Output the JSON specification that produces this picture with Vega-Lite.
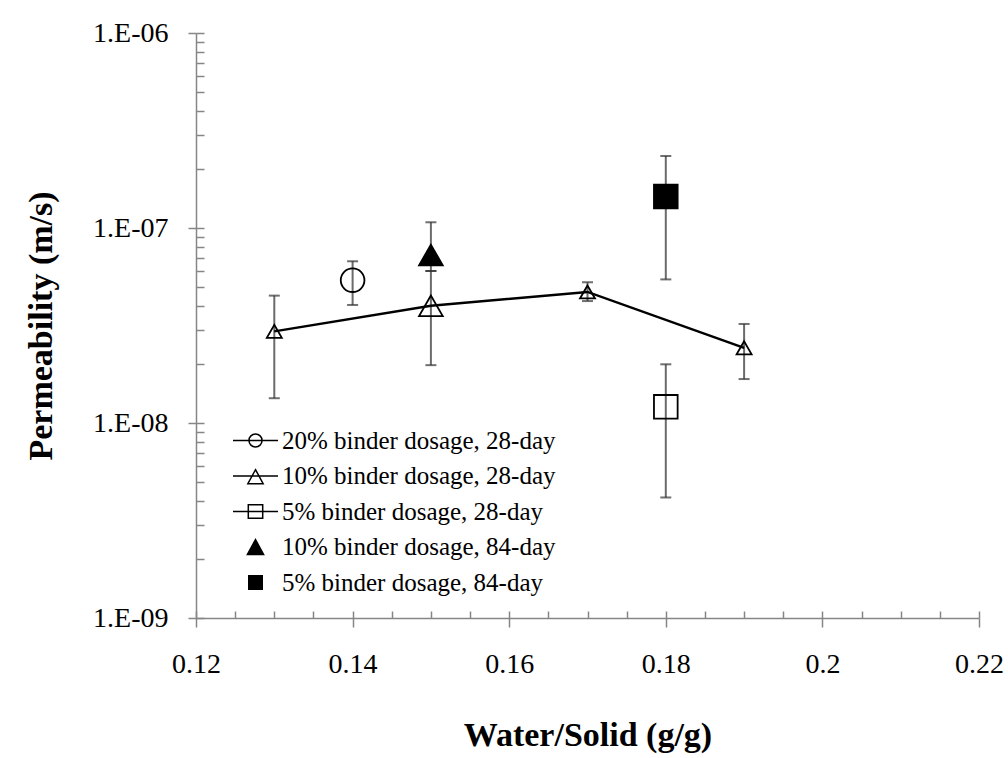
{
  "$schema": "https://vega.github.io/schema/vega-lite/v6.json",
  "width": 783,
  "height": 585,
  "autosize": {"type": "none"},
  "padding": {"left": 196, "top": 33, "right": 29, "bottom": 140},
  "background": "white",
  "config": {"view": {"stroke": null}, "font": "Liberation Serif"},
  "data": {
    "values": [
      {"series": "20% binder dosage, 28-day", "x": 0.14, "y": 5.4e-8, "lo": 4.03e-8, "hi": 6.75e-8},
      {"series": "10% binder dosage, 28-day", "x": 0.13, "y": 2.95e-8, "lo": 1.34e-8, "hi": 4.5e-8},
      {"series": "10% binder dosage, 28-day", "x": 0.15, "y": 3.99e-8, "lo": 1.98e-8, "hi": 6.02e-8},
      {"series": "10% binder dosage, 28-day", "x": 0.17, "y": 4.7e-8, "lo": 4.22e-8, "hi": 5.27e-8},
      {"series": "10% binder dosage, 28-day", "x": 0.19, "y": 2.43e-8, "lo": 1.68e-8, "hi": 3.22e-8},
      {"series": "5% binder dosage, 28-day", "x": 0.18, "y": 1.21e-8, "lo": 4.15e-9, "hi": 2.0e-8},
      {"series": "10% binder dosage, 84-day", "x": 0.15, "y": 7.27e-8, "lo": 6.02e-8, "hi": 1.07e-7},
      {"series": "5% binder dosage, 84-day", "x": 0.18, "y": 1.45e-7, "lo": 5.45e-8, "hi": 2.34e-7}
    ]
  },
  "resolve": {
    "scale": {"shape": "independent", "fill": "independent", "stroke": "independent"},
    "axis": {"x": "independent", "y": "independent"}
  },
  "layer": [
    {
      "mark": {"type": "rule", "color": "#6b6b6b", "strokeWidth": 2},
      "encoding": {
        "x": {
          "field": "x", "type": "quantitative",
          "scale": {"domain": [0.12, 0.22], "nice": false, "zero": false},
          "axis": {
            "orient": "bottom",
            "values": [0.12, 0.14, 0.16, 0.18, 0.2, 0.22],
            "format": "~g",
            "title": "Water/Solid (g/g)",
            "titleFont": "Liberation Serif", "titleFontSize": 34, "titleFontWeight": "bold", "titleColor": "black",
            "titlePadding": 40,
            "labelFont": "Liberation Serif", "labelFontSize": 28, "labelColor": "black", "labelPadding": 23,
            "labelFlush": false, "labelOverlap": false,
            "tickSize": 9, "tickColor": "#868686", "tickWidth": 1.5,
            "domainColor": "#868686", "domainWidth": 1.5, "grid": false
          }
        },
        "y": {
          "field": "lo", "type": "quantitative",
          "scale": {"type": "log", "domain": [1e-9, 1e-6], "nice": false},
          "axis": {
            "orient": "left",
            "values": [1e-9, 1e-8, 1e-7, 1e-6],
            "labelExpr": "'1.E-0' + round(-log(datum.value)/LN10)",
            "title": "Permeability (m/s)",
            "titleFont": "Liberation Serif", "titleFontSize": 34, "titleFontWeight": "bold", "titleColor": "black",
            "titlePadding": 34,
            "labelFont": "Liberation Serif", "labelFontSize": 28, "labelColor": "black", "labelPadding": 20,
            "tickSize": 8, "tickColor": "#868686", "tickWidth": 1.5,
            "domainColor": "#868686", "domainWidth": 1.5, "grid": false
          }
        },
        "y2": {"field": "hi"}
      }
    },
    {
      "mark": {"type": "tick", "orient": "horizontal", "size": 11, "thickness": 2, "color": "#333333"},
      "encoding": {
        "x": {
          "field": "x", "type": "quantitative",
          "axis": {
            "orient": "bottom",
            "values": [0.12, 0.125, 0.13, 0.135, 0.14, 0.145, 0.15, 0.155, 0.16, 0.165, 0.17, 0.175, 0.18, 0.185, 0.19, 0.195, 0.2, 0.205, 0.21, 0.215, 0.22],
            "labels": false, "domain": false, "title": null, "grid": false,
            "tickSize": -7, "tickColor": "#868686", "tickWidth": 1.5
          }
        },
        "y": {
          "field": "lo", "type": "quantitative",
          "axis": {
            "orient": "left",
            "values": [1e-9, 2e-9, 3e-9, 4e-9, 5e-9, 6e-9, 7e-9, 8e-9, 9e-9, 1e-8, 2e-8, 3e-8, 4e-8, 5e-8, 6e-8, 7e-8, 8e-8, 9e-8, 1e-7, 2e-7, 3e-7, 4e-7, 5e-7, 6e-7, 7e-7, 8e-7, 9e-7, 1e-6],
            "labels": false, "domain": false, "title": null, "grid": false,
            "tickSize": -8, "tickColor": "#868686", "tickWidth": 1.5
          }
        }
      }
    },
    {
      "mark": {"type": "tick", "orient": "horizontal", "size": 11, "thickness": 2, "color": "#333333"},
      "encoding": {
        "x": {"field": "x", "type": "quantitative", "axis": null},
        "y": {"field": "hi", "type": "quantitative", "axis": null}
      }
    },
    {
      "transform": [{"filter": "datum.series === '10% binder dosage, 28-day'"}],
      "mark": {"type": "line", "color": "black", "strokeWidth": 2.5},
      "encoding": {
        "x": {"field": "x", "type": "quantitative", "axis": null},
        "y": {"field": "y", "type": "quantitative", "axis": null}
      }
    },
    {
      "mark": {"type": "point", "filled": true, "stroke": "black", "strokeWidth": 1.8, "opacity": 1},
      "encoding": {
        "x": {"field": "x", "type": "quantitative", "axis": null},
        "y": {"field": "y", "type": "quantitative", "axis": null},
        "shape": {
          "field": "series", "type": "nominal", "legend": null,
          "scale": {
            "domain": ["20% binder dosage, 28-day", "10% binder dosage, 28-day", "5% binder dosage, 28-day", "10% binder dosage, 84-day", "5% binder dosage, 84-day"],
            "range": ["circle", "triangle-up", "square", "triangle-up", "square"]
          }
        },
        "fill": {
          "field": "series", "type": "nominal", "legend": null,
          "scale": {
            "domain": ["20% binder dosage, 28-day", "10% binder dosage, 28-day", "5% binder dosage, 28-day", "10% binder dosage, 84-day", "5% binder dosage, 84-day"],
            "range": ["transparent", "transparent", "transparent", "black", "black"]
          }
        },
        "size": {
          "condition": [{"test": "datum.series === '10% binder dosage, 28-day' && datum.x !== 0.15", "value": 225}],
          "value": 560
        }
      }
    },
    {
      "mark": {"type": "point", "filled": true, "strokeWidth": 1.5, "opacity": 0},
      "encoding": {
        "x": {"field": "x", "type": "quantitative", "axis": null},
        "y": {"field": "y", "type": "quantitative", "axis": null},
        "shape": {
          "field": "series", "type": "nominal",
          "scale": {
            "domain": ["20% binder dosage, 28-day", "10% binder dosage, 28-day", "5% binder dosage, 28-day", "10% binder dosage, 84-day", "5% binder dosage, 84-day"],
            "range": [
              "M-1,0L1,0M0.29,0A0.29,0.29,0,1,1,-0.29,0A0.29,0.29,0,1,1,0.29,0",
              "M-1,0L1,0M0,-0.28L0.34,0.34L-0.34,0.34Z",
              "M-1,0L1,0M-0.32,-0.3L0.32,-0.3L0.32,0.3L-0.32,0.3Z",
              "M0,-0.33L0.36,0.33L-0.36,0.33Z",
              "M-0.3,-0.3L0.3,-0.3L0.3,0.3L-0.3,0.3Z"
            ]
          },
          "legend": {
            "title": null, "orient": "none", "legendX": 36, "legendY": 390, "padding": 0,
            "symbolSize": 2025, "symbolStrokeWidth": 1.5, "symbolOpacity": 1,
            "labelFont": "Liberation Serif", "labelFontSize": 25, "labelColor": "black", "labelOffset": 3,
            "labelLimit": 400, "clipHeight": 35, "rowPadding": 0.5
          }
        },
        "fill": {
          "field": "series", "type": "nominal",
          "scale": {
            "domain": ["20% binder dosage, 28-day", "10% binder dosage, 28-day", "5% binder dosage, 28-day", "10% binder dosage, 84-day", "5% binder dosage, 84-day"],
            "range": ["transparent", "transparent", "transparent", "black", "black"]
          },
          "legend": {
            "title": null, "orient": "none", "legendX": 36, "legendY": 390, "padding": 0,
            "symbolSize": 2025, "symbolStrokeWidth": 1.5, "symbolOpacity": 1,
            "labelFont": "Liberation Serif", "labelFontSize": 25, "labelColor": "black", "labelOffset": 3,
            "labelLimit": 400, "clipHeight": 35, "rowPadding": 0.5
          }
        },
        "stroke": {
          "field": "series", "type": "nominal",
          "scale": {
            "domain": ["20% binder dosage, 28-day", "10% binder dosage, 28-day", "5% binder dosage, 28-day", "10% binder dosage, 84-day", "5% binder dosage, 84-day"],
            "range": ["black", "black", "black", "black", "black"]
          },
          "legend": {
            "title": null, "orient": "none", "legendX": 36, "legendY": 390, "padding": 0,
            "symbolSize": 2025, "symbolStrokeWidth": 1.5, "symbolOpacity": 1,
            "labelFont": "Liberation Serif", "labelFontSize": 25, "labelColor": "black", "labelOffset": 3,
            "labelLimit": 400, "clipHeight": 35, "rowPadding": 0.5
          }
        }
      }
    }
  ]
}
